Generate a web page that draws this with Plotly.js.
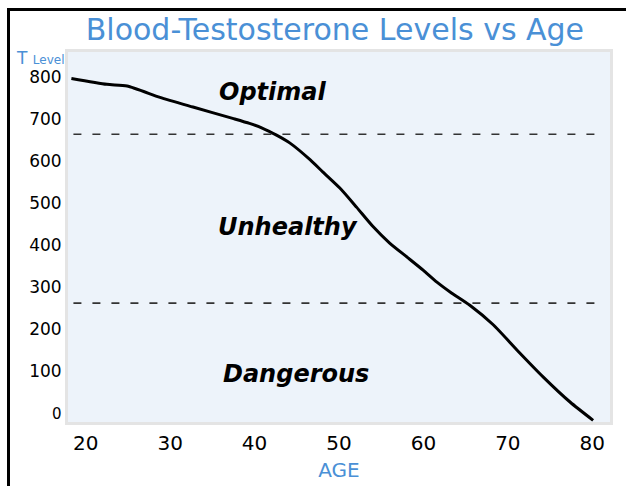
<!DOCTYPE html>
<html>
<head>
<meta charset="utf-8">
<script src="https://cdn.plot.ly/plotly-3.0.1.min.js"></script>
<style>
  html, body { margin: 0; padding: 0; background: #fff; }
  #wrap { position: relative; width: 626px; height: 486px; overflow: hidden; }
  #chart { position: absolute; left: 0; top: 0; width: 626px; height: 486px; }
  #frame { position: absolute; left: 7px; top: 8px; width: 700px; height: 600px;
           border-left: 3px solid #000; border-top: 3px solid #000; pointer-events: none; }
</style>
</head>
<body>
<div id="wrap">
  <div id="chart"></div>
  <div id="frame"></div>
</div>
<script>
// Data
const ages   = [18.3, 22.5, 24.9, 28.8, 32.7, 37.4, 39.4, 40.9, 42.6, 44.2, 46.6, 48.1, 50.1, 52.1, 54.0, 56.0, 58.1, 60.0, 61.6, 63.2, 65.5, 68.3, 71.1, 74.2, 77.4, 80.1];
const levels = [797, 783, 779, 752, 729, 702, 690, 679, 662, 643, 603, 574, 536, 490, 445, 405, 371, 340, 312, 288, 257, 210, 150, 86, 26, -17];
const thresholds = [664, 262];
const zoneLabels = ["Optimal", "Unhealthy", "Dangerous"];
const xTicks = [20, 30, 40, 50, 60, 70, 80];
const yTicks = [0, 100, 200, 300, 400, 500, 600, 700, 800];

const BLUE = "#4a90d6";
const FONT = "'DejaVu Sans', 'Liberation Sans', Arial, sans-serif";

const trace = {
  x: ages, y: levels, type: "scatter", mode: "lines",
  line: { color: "#000", width: 3, shape: "spline", smoothing: 0.6 },
  hoverinfo: "skip", showlegend: false
};

const zonePos = [[42.1, 764], [44.0, 444], [44.9, 93]];

const layout = {
  width: 626, height: 486,
  margin: { l: 68, r: 16, t: 52, b: 64, pad: 0 },
  paper_bgcolor: "#fff",
  plot_bgcolor: "#edf3fa",
  font: { family: FONT, color: "#000" },
  title: {
    text: "Blood-Testosterone Levels vs Age",
    font: { family: FONT, size: 30, color: BLUE },
    xref: "container", x: 0.535, xanchor: "center",
    yref: "container", y: 0.94, yanchor: "middle"
  },
  xaxis: {
    range: [17.9, 82.1], tickvals: xTicks, ticktext: xTicks.map(String),
    showgrid: false, zeroline: false, ticks: "",
    showline: true, mirror: true, linecolor: "#e4e4e4", linewidth: 3,
    tickfont: { size: 20, family: FONT, color: "#000" },
    ticklabelstandoff: 1,
    title: { text: "AGE", font: { size: 20, family: FONT, color: BLUE }, standoff: 9 },
    fixedrange: true
  },
  yaxis: {
    range: [-21, 860], tickvals: yTicks,
    ticktext: yTicks.map(v => v === 0 ? "<span style='font-size:15px'>0</span>" : String(v)),
    showgrid: false, zeroline: false, ticks: "",
    showline: true, mirror: true, linecolor: "#e4e4e4", linewidth: 3,
    tickfont: { size: 17, family: FONT, color: "#000" },
    ticklabelstandoff: 0,
    fixedrange: true
  },
  shapes: thresholds.map(v => ({
    type: "line", xref: "paper", yref: "y", x0: 0.01, x1: 0.985, y0: v, y1: v,
    line: { color: "#333", width: 1.6, dash: "8px,11px" }, layer: "above"
  })),
  annotations: zoneLabels.map((t, i) => ({
    text: "<b><i>" + t + "</i></b>", x: zonePos[i][0], y: zonePos[i][1],
    xref: "x", yref: "y", showarrow: false, xanchor: "center", yanchor: "middle",
    font: { size: 24, family: FONT, color: "#000" }
  })).concat([{
    text: "T <span style='font-size:12px'>Level</span>",
    xref: "paper", yref: "paper", x: -0.052, y: 0.985,
    xanchor: "center", yanchor: "middle", showarrow: false,
    font: { size: 17, family: FONT, color: BLUE }
  }])
};

Plotly.newPlot("chart", [trace], layout, { displayModeBar: false, staticPlot: true });
</script>
</body>
</html>
